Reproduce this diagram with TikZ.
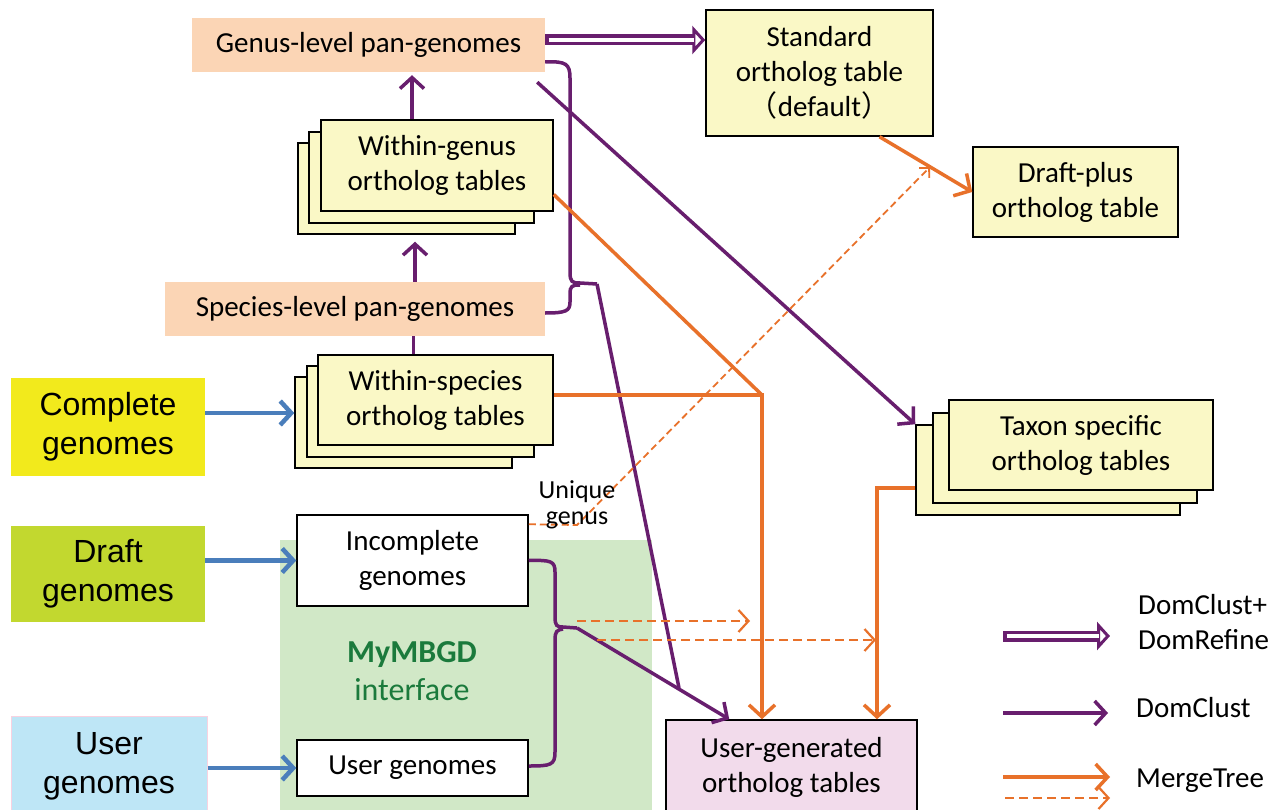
\documentclass[tikz,border=0pt]{standalone}
\usepackage{fontspec}
\setmainfont{Carlito}
\newfontfamily\arialf{Liberation Sans}
\newfontfamily\cjkf{Noto Sans CJK SC}
\usetikzlibrary{arrows.meta,calc}
\definecolor{dpurple}{RGB}{104,30,110}
\definecolor{morange}{RGB}{232,113,42}
\definecolor{mblue}{RGB}{74,126,187}
\definecolor{tyellow}{RGB}{250,248,198}
\definecolor{peach}{RGB}{251,213,181}
\definecolor{cyel}{RGB}{242,234,28}
\definecolor{dgreen}{RGB}{194,216,47}
\definecolor{ublue}{RGB}{190,230,246}
\definecolor{ubord}{RGB}{248,210,225}
\definecolor{mygreen}{RGB}{209,232,199}
\definecolor{gtext}{RGB}{27,122,60}
\definecolor{upink}{RGB}{242,219,235}
\begin{document}
\begin{tikzpicture}[x=1pt,y=-1pt,
  box/.style={inner sep=0pt, align=center, font=\fontsize{29}{35}\selectfont},
  tbl/.style={box, draw=black, line width=1.5pt, fill=tyellow},
  wbox/.style={box, draw=black, line width=1.5pt, fill=white},
  pan/.style={box, fill=peach},
  src/.style={inner sep=0pt, align=center, font=\arialf\fontsize{32}{39}\selectfont},
  dcl/.style={draw=dpurple, line width=3.5pt},
  dc/.style={dcl, -{Straight Barb[length=11pt,width=24pt]}},
  mt/.style={draw=morange, line width=3.5pt},
  mta/.style={mt, -{Straight Barb[length=12pt,width=26pt]}},
  mtd/.style={draw=morange, line width=2.2pt, dash pattern=on 9pt off 5pt, -{Straight Barb[length=10pt,width=22pt]}},
  mtt/.style={draw=morange, line width=1.8pt, dash pattern=on 7pt off 4pt, -{Straight Barb[length=7pt,width=14pt]}},
  dblout/.style={draw=dpurple, line width=11pt, -{Triangle[open, fill=white, length=13pt, width=28pt, line width=3pt]}},
  dblin/.style={draw=white, line width=4pt, shorten >=11pt, shorten <=3.5pt},
  blu/.style={draw=mblue, line width=4.5pt, -{Straight Barb[length=11pt,width=24pt]}},
]
\useasboundingbox (0,0) rectangle (1281,810);
\fill[white] (0,0) rectangle (1281,810);
\fill[mygreen] (280,540) rectangle (652,810);

% top nodes
\node[pan, minimum width=353pt, minimum height=54pt] (genus) at (368.5,45) {Genus-level pan-genomes};
\node[tbl, minimum width=227pt, minimum height=126pt] (std) at (819.5,73) {Standard\\ortholog table\\{\cjkf（}default{\cjkf）}};
\node[tbl, minimum width=205pt, minimum height=90pt] (dp) at (1075.5,192) {Draft-plus\\ortholog table};

% within-genus stack
\node[tbl, minimum width=217pt, minimum height=91pt] (wg3) at (406.5,188.5) {};
\node[tbl, minimum width=225pt, minimum height=91pt] (wg2) at (421.5,177.5) {};
\node[tbl, minimum width=232pt, minimum height=91pt] (wg) at (437,165.5) {Within-genus\\ortholog tables};

\node[pan, minimum width=380pt, minimum height=54pt] (sp) at (355,309) {Species-level pan-genomes};

% within-species stack
\node[tbl, minimum width=217pt, minimum height=91pt] (ws3) at (403.5,422.5) {};
\node[tbl, minimum width=227pt, minimum height=91pt] (ws2) at (420.5,411.5) {};
\node[tbl, minimum width=235pt, minimum height=90pt] (ws) at (435.5,400) {Within-species\\ortholog tables};

% taxon stack
\node[tbl, minimum width=264pt, minimum height=90pt] (tx3) at (1048,470) {};
\node[tbl, minimum width=264pt, minimum height=90pt] (tx2) at (1065,458) {};
\node[tbl, minimum width=264pt, minimum height=90pt] (tx) at (1081,445) {Taxon specific\\ortholog tables};

% sources
\node[src, fill=cyel, minimum width=194pt, minimum height=98pt] (cg) at (108,427) {Complete\\genomes};
\node[src, fill=dgreen, minimum width=194pt, minimum height=96pt] (dg) at (108,574) {Draft\\genomes};
\node[src, fill=ublue, draw=ubord, line width=1pt, minimum width=196pt, minimum height=100pt] (usrc) at (109,766) {User\\genomes};

% MyMBGD
\node[wbox, minimum width=231pt, minimum height=91pt] (inc) at (412.5,560.5) {Incomplete\\genomes};
\node[wbox, minimum width=231pt, minimum height=56pt] (ugn) at (412.5,768) {User genomes};
\node[inner sep=0pt, align=center, text=gtext, font=\fontsize{32}{38}\selectfont] (mym) at (412,671) {\textbf{MyMBGD}\\interface};

\node[box, draw=black, line width=1.5pt, fill=upink, minimum width=251pt, minimum height=95pt] (ug) at (791.5,767.5) {User-generated\\ortholog tables};

% coordinates
\coordinate (stip) at (597,284);
\coordinate (btip) at (577,628);
\coordinate (merge) at (679,688);
\coordinate (corner) at (762,395);
\coordinate (tcorner) at (877,488);
\coordinate (ugen) at (577,525);
\coordinate (dpend) at (930,167);
\coordinate (d1s) at (577,621);
\coordinate (d1e) at (750,621);
\coordinate (d2s) at (597,640);
\coordinate (d2e) at (876,640);

% connectors
\draw[dblout] ([yshift=5pt]genus.east) -- ([yshift=5pt]genus.east -| std.west);
\draw[dblin] ([yshift=5pt]genus.east) -- ([yshift=5pt]genus.east -| std.west);
\draw[dc, shorten >=3pt] ([xshift=-25pt]wg.north) -- ([xshift=-25pt]wg.north |- genus.south);
\draw[dc, shorten >=7pt] ([xshift=60pt]sp.north) -- ([xshift=60pt]sp.north |- wg3.south);
\draw[dcl] ([xshift=-22pt]ws.north) -- ([xshift=-22pt]ws.north |- sp.south);

\draw[dcl] ([yshift=-17pt]genus.east) .. controls (566,61) and (570,64) .. (570,78) -- (570,272) .. controls (570,282) and (572,283) .. (580,283) -- (stip);
\draw[dcl] ([yshift=-4pt]sp.east) .. controls (566,313) and (570,311) .. (570,302) -- (570,294) .. controls (570,286) and (572,285) .. (580,285);
\draw[dcl] (stip) -- (merge);

\draw[dcl] (inc.east) .. controls (551,560) and (555,561) .. (555,572) -- (555,617) .. controls (555,626) and (557,627) .. (563,627) -- (btip);
\draw[dcl] ([yshift=2pt]ugn.east) .. controls (551,766) and (555,765) .. (555,752) -- (555,640) .. controls (555,631) and (557,630) .. (563,629);
\draw[dc] (btip) -- ([xshift=64pt]ug.north west);

\draw[dc] ([shift={(-8pt,-10pt)}]genus.south east) -- (tx3.north west);

\draw[mt] ([yshift=-29pt]wg.east) -- (corner);
\draw[mta] ([yshift=5pt]ws.east) -- (corner) -- (corner |- ug.north);
\draw[mta] ([yshift=-18pt]tx3.west) -- (tcorner) -- (tcorner |- ug.north);
\draw[mta] ([xshift=60pt]std.south) -- (dp.west);
\draw[mtd] (d1s) -- (d1e);
\draw[mtd] (d2s) -- (d2e);
\draw[mtt] ([yshift=-10pt]inc.north east) -- (ugen) -- (dpend);

\draw[blu] ([yshift=14pt]cg.east) -- ([yshift=14pt]cg.east -| ws3.west);
\draw[blu] (inc.west -| dg.east) -- (inc.west);
\draw[blu] (ugn.west -| usrc.east) -- (ugn.west);

\node[inner sep=0pt, align=center, font=\fontsize{26}{26}\selectfont] (uq) at (577,505) {Unique\\genus};

% legend
\coordinate (l1s) at (1003,636); \coordinate (l1e) at (1110,636);
\coordinate (l2s) at (1003,713); \coordinate (l2e) at (1108,713);
\coordinate (l3s) at (1003,777); \coordinate (l3e) at (1110,777);
\coordinate (l4s) at (1005,798); \coordinate (l4e) at (1110,798);
\draw[dblout] (l1s) -- (l1e);
\draw[dblin] (l1s) -- (l1e);
\draw[dc] (l2s) -- (l2e);
\draw[mta] (l3s) -- (l3e);
\draw[mtd] (l4s) -- (l4e);
\node[box, align=left, anchor=west] (lt1) at (1138,622) {DomClust+\\DomRefine};
\node[box, anchor=west] (lt2) at (1136,708) {DomClust};
\node[box, anchor=west] (lt3) at (1136,781) {MergeTree};
\end{tikzpicture}
\end{document}
